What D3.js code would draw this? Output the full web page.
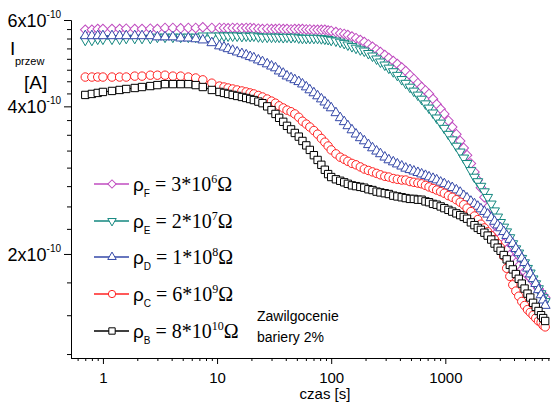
<!DOCTYPE html>
<html>
<head>
<meta charset="utf-8">
<script src="https://d3js.org/d3.v7.min.js"></script>
<style>
  body { margin: 0; background: #fff; }
  svg { display: block; }
  .axis path, .axis line { stroke: #000; stroke-width: 1; }
  .axis text { font-family: "Liberation Sans", Arial, sans-serif; fill: #000; }
</style>
</head>
<body>
<div id="chart"></div>
<script>
// I_przew vs czas, log-log, five barrier resistances, 2% moisture

var svgWidth = 551;
var svgHeight = 404;

// time [s] shared by all series
var czas = [
  0.7, 0.8, 0.9, 1.0, 1.2, 1.4, 1.6, 1.9,
  2.2, 2.6, 3.0, 3.5, 4.1, 4.8, 5.6, 6.5,
  7.5, 9, 10.5, 11.5, 12.5, 13.7, 15, 16.5,
  18, 19.5, 21, 23, 25, 27.5, 30, 32.5,
  35, 38, 41, 44.5, 48, 52, 56, 60.5,
  65, 70.5, 76, 82, 88, 94, 100, 110,
  120, 130, 140, 152, 165, 180, 195, 212,
  230, 250, 270, 295, 320, 350, 380, 415,
  450, 490, 530, 575, 620, 670, 720, 780,
  840, 910, 980, 1065, 1150, 1250, 1350, 1450,
  1550, 1675, 1800, 1925, 2050, 2200, 2350, 2525,
  2700, 2875, 3050, 3250, 3450, 3675, 3900, 4150,
  4400, 4675, 4950, 5250, 5550, 5875, 6200, 6550,
  6900, 7200, 7500
];

// current in units of 1e-10 A
var rhoF = [
  5.73, 5.73, 5.75, 5.75, 5.75, 5.75, 5.76, 5.75,
  5.75, 5.76, 5.75, 5.78, 5.78, 5.77, 5.78, 5.78,
  5.80, 5.78, 5.78, 5.78, 5.77, 5.78, 5.78, 5.77,
  5.78, 5.78, 5.77, 5.76, 5.75, 5.76, 5.75, 5.75,
  5.76, 5.75, 5.75, 5.74, 5.75, 5.75, 5.75, 5.74,
  5.74, 5.73, 5.73, 5.73, 5.73, 5.71, 5.70, 5.67,
  5.64, 5.62, 5.59, 5.55, 5.51, 5.46, 5.41, 5.35,
  5.29, 5.22, 5.16, 5.09, 5.02, 4.95, 4.88, 4.80,
  4.72, 4.63, 4.55, 4.46, 4.38, 4.31, 4.24, 4.14,
  4.04, 3.95, 3.86, 3.74, 3.63, 3.51, 3.40, 3.29,
  3.18, 3.06, 2.94, 2.83, 2.73, 2.61, 2.49, 2.39,
  2.29, 2.22, 2.16, 2.10, 2.04, 1.99, 1.95, 1.92,
  1.89, 1.86, 1.84, 1.81, 1.79, 1.76, 1.73, 1.70,
  1.67, 1.65, 1.63
];
var rhoE = [
  5.46, 5.46, 5.49, 5.49, 5.49, 5.49, 5.51, 5.51,
  5.51, 5.51, 5.54, 5.54, 5.54, 5.54, 5.54, 5.54,
  5.57, 5.57, 5.57, 5.57, 5.57, 5.57, 5.57, 5.56,
  5.57, 5.56, 5.57, 5.55, 5.54, 5.54, 5.54, 5.54,
  5.54, 5.53, 5.54, 5.53, 5.54, 5.52, 5.51, 5.51,
  5.51, 5.51, 5.51, 5.50, 5.49, 5.48, 5.46, 5.44,
  5.41, 5.38, 5.34, 5.30, 5.26, 5.22, 5.19, 5.13,
  5.07, 5.00, 4.93, 4.86, 4.79, 4.71, 4.63, 4.54,
  4.46, 4.38, 4.30, 4.22, 4.14, 4.05, 3.97, 3.88,
  3.79, 3.70, 3.61, 3.51, 3.42, 3.32, 3.23, 3.14,
  3.06, 2.96, 2.87, 2.81, 2.75, 2.68, 2.61, 2.53,
  2.45, 2.38, 2.32, 2.27, 2.22, 2.16, 2.10, 2.05,
  2.01, 1.96, 1.92, 1.87, 1.83, 1.78, 1.74, 1.70,
  1.66, 1.63, 1.60
];
var rhoD = [
  5.57, 5.57, 5.57, 5.57, 5.57, 5.57, 5.57, 5.57,
  5.57, 5.57, 5.54, 5.54, 5.54, 5.51, 5.51, 5.49,
  5.46, 5.39, 5.31, 5.28, 5.24, 5.20, 5.16, 5.12,
  5.09, 5.05, 5.02, 4.97, 4.93, 4.88, 4.83, 4.79,
  4.72, 4.67, 4.61, 4.57, 4.53, 4.49, 4.44, 4.38,
  4.32, 4.26, 4.20, 4.14, 4.08, 4.02, 3.97, 3.88,
  3.79, 3.72, 3.65, 3.58, 3.51, 3.45, 3.40, 3.34,
  3.29, 3.24, 3.20, 3.15, 3.11, 3.08, 3.05, 3.02,
  2.99, 2.97, 2.95, 2.93, 2.91, 2.89, 2.87, 2.85,
  2.83, 2.80, 2.78, 2.75, 2.73, 2.70, 2.67, 2.63,
  2.60, 2.56, 2.53, 2.50, 2.47, 2.44, 2.41, 2.37,
  2.33, 2.29, 2.26, 2.22, 2.18, 2.14, 2.10, 2.05,
  2.01, 1.96, 1.92, 1.87, 1.82, 1.78, 1.74, 1.69,
  1.65, 1.61, 1.57
];
var rhoC = [
  4.59, 4.59, 4.59, 4.59, 4.59, 4.59, 4.59, 4.61,
  4.61, 4.63, 4.63, 4.63, 4.61, 4.61, 4.59, 4.57,
  4.53, 4.46, 4.40, 4.38, 4.36, 4.34, 4.32, 4.30,
  4.28, 4.26, 4.24, 4.21, 4.18, 4.14, 4.10, 4.06,
  4.01, 3.97, 3.93, 3.90, 3.86, 3.80, 3.73, 3.68,
  3.63, 3.57, 3.51, 3.44, 3.38, 3.32, 3.26, 3.20,
  3.15, 3.12, 3.09, 3.06, 3.04, 3.01, 2.98, 2.96,
  2.94, 2.92, 2.90, 2.88, 2.87, 2.85, 2.84, 2.83,
  2.83, 2.81, 2.80, 2.79, 2.78, 2.76, 2.74, 2.72,
  2.70, 2.68, 2.66, 2.63, 2.61, 2.58, 2.55, 2.52,
  2.48, 2.44, 2.39, 2.35, 2.30, 2.26, 2.22, 2.18,
  2.14, 2.10, 2.06, 1.98, 1.87, 1.80, 1.73, 1.68,
  1.64, 1.60, 1.57, 1.54, 1.52, 1.50, 1.48, 1.46,
  1.45, 1.43, 1.42
];
var rhoB = [
  4.22, 4.24, 4.26, 4.28, 4.30, 4.32, 4.34, 4.36,
  4.38, 4.40, 4.42, 4.44, 4.44, 4.44, 4.44, 4.42,
  4.38, 4.32, 4.28, 4.26, 4.24, 4.22, 4.20, 4.18,
  4.16, 4.14, 4.12, 4.09, 4.06, 4.00, 3.93, 3.86,
  3.79, 3.72, 3.65, 3.59, 3.53, 3.47, 3.40, 3.33,
  3.26, 3.18, 3.11, 3.04, 2.97, 2.91, 2.87, 2.84,
  2.82, 2.80, 2.78, 2.76, 2.75, 2.74, 2.73, 2.71,
  2.70, 2.68, 2.67, 2.66, 2.65, 2.63, 2.62, 2.61,
  2.60, 2.59, 2.59, 2.58, 2.58, 2.56, 2.55, 2.53,
  2.52, 2.50, 2.48, 2.46, 2.44, 2.42, 2.40, 2.38,
  2.36, 2.32, 2.29, 2.26, 2.24, 2.21, 2.18, 2.14,
  2.10, 2.06, 2.03, 1.99, 1.95, 1.90, 1.86, 1.82,
  1.78, 1.74, 1.70, 1.66, 1.63, 1.59, 1.56, 1.53,
  1.50, 1.48, 1.46
];

// legend parts
var seriesLetters = ['F', 'E', 'D', 'C', 'B'];
var seriesMantissa = ['3', '2', '1', '6', '8'];
var seriesExponent = ['6', '7', '8', '9', '10'];
var seriesColors = ['#c04cc0', '#13877f', '#3448a8', '#ff2222', '#000000'];

// ticks
var xMajorTicks = [1, 10, 100, 1000];
var xMinorSteps = [2, 3, 4, 5, 6, 7, 8, 9];
var yMajorTicks = [2, 4, 6];
var yMinorTicks = [1.25, 1.5, 1.75, 2.25, 2.5, 2.75, 3, 3.25, 3.5, 3.75,
                   4.25, 4.5, 4.75, 5, 5.25, 5.5, 5.75];

var allSeries = [rhoF, rhoE, rhoD, rhoC, rhoB];

var svg = d3.select('#chart')
  .append('svg')
  .attr('width', svgWidth)
  .attr('height', svgHeight);

// scales
var xScale = d3.scaleLog()
  .domain([0.525, 8100])
  .range([71, 549]);

var yScale = d3.scaleLog()
  .domain([1.227, 6])
  .range([358, 20]);

// x minor ticks
var xMinorTicks = [];
[0.1, 1, 10, 100, 1000].forEach(function(dec) {
  xMinorSteps.forEach(function(s) {
    var v = dec * s;
    if (v >= 0.525 && v <= 8100) xMinorTicks.push(v);
  });
});

// bottom axis
svg.append('g')
  .attr('class', 'axis')
  .attr('transform', 'translate(0,358)')
  .call(d3.axisBottom(xScale).tickValues(xMinorTicks).tickSize(3).tickSizeOuter(0).tickFormat(''));

var xAxis = svg.append('g')
  .attr('class', 'axis')
  .attr('transform', 'translate(0,358)')
  .call(d3.axisBottom(xScale).tickValues(xMajorTicks).tickSize(6).tickSizeOuter(0)
    .tickFormat(d3.format('d')));
xAxis.selectAll('text')
  .attr('font-size', 15)
  .attr('y', 14);

// left axis
svg.append('g')
  .attr('class', 'axis')
  .attr('transform', 'translate(71,0)')
  .call(d3.axisLeft(yScale).tickValues(yMinorTicks).tickSize(4).tickSizeOuter(0).tickFormat(''));

var yAxis = svg.append('g')
  .attr('class', 'axis')
  .attr('transform', 'translate(71,0)')
  .call(d3.axisLeft(yScale).tickValues(yMajorTicks).tickSize(7).tickSizeOuter(0).tickFormat(''));

yAxis.selectAll('.tick text')
  .attr('x', -10)
  .attr('dy', '0.36em')
  .attr('font-size', 18)
  .attr('text-anchor', 'end')
  .each(function(d) {
    var t = d3.select(this);
    t.append('tspan').text(d + 'x10');
    t.append('tspan').attr('font-size', 10).attr('dy', -9).text('-10');
  });

// axis titles
var yTitle = svg.append('g')
  .attr('font-family', '"Liberation Sans", Arial, sans-serif')
  .attr('fill', '#000');
yTitle.append('text')
  .attr('x', 10)
  .attr('y', 55)
  .attr('font-size', 19)
  .text('I');
yTitle.append('text')
  .attr('x', 15)
  .attr('y', 65)
  .attr('font-size', 11)
  .text('przew');
yTitle.append('text')
  .attr('x', 24)
  .attr('y', 89)
  .attr('font-size', 19)
  .text('[A]');

svg.append('text')
  .attr('x', 325)
  .attr('y', 399)
  .attr('text-anchor', 'middle')
  .attr('font-family', '"Liberation Sans", Arial, sans-serif')
  .attr('font-size', 15)
  .text('czas [s]');

// marker shapes
var symbolTypes = [d3.symbolSquare, d3.symbolTriangle, d3.symbolTriangle, d3.symbolCircle, d3.symbolSquare];
var symbolSizes = [46, 42, 42, 56, 54];
var symbolRotate = [45, 180, 0, 0, 0];

var line = d3.line()
  .x(function(d) { return xScale(d[0]); })
  .y(function(d) { return yScale(d[1]); });

// series, F first so B ends up on top
allSeries.forEach(function(vals, i) {
  var pts = czas.map(function(t, j) { return [t, vals[j]]; });
  var g = svg.append('g');
  g.append('path')
    .datum(pts)
    .attr('fill', 'none')
    .attr('stroke', seriesColors[i])
    .attr('stroke-width', 1)
    .attr('d', line);
  g.selectAll('path.mark')
    .data(pts)
    .enter()
    .append('path')
    .attr('class', 'mark')
    .attr('d', d3.symbol().type(symbolTypes[i]).size(symbolSizes[i]))
    .attr('transform', function(d) {
      return 'translate(' + xScale(d[0]) + ',' + yScale(d[1]) + ') rotate(' + symbolRotate[i] + ')';
    })
    .attr('fill', '#fff')
    .attr('stroke', seriesColors[i])
    .attr('stroke-width', 1);
});

// legend
var legendY = [184, 221, 257, 294, 331];
var legend = svg.append('g');
seriesLetters.forEach(function(letter, i) {
  var ly = legendY[i];
  legend.append('line')
    .attr('x1', 94).attr('x2', 129)
    .attr('y1', ly).attr('y2', ly)
    .attr('stroke', seriesColors[i])
    .attr('stroke-width', 1.5);
  legend.append('path')
    .attr('d', d3.symbol().type(symbolTypes[i]).size(symbolSizes[i] * 0.75))
    .attr('transform', 'translate(112,' + ly + ') rotate(' + symbolRotate[i] + ')')
    .attr('fill', '#fff')
    .attr('stroke', seriesColors[i])
    .attr('stroke-width', 1);

  var txt = legend.append('text')
    .attr('x', 133)
    .attr('y', ly + 7)
    .attr('fill', '#000');
  txt.append('tspan')
    .attr('font-family', '"Liberation Sans", Arial, sans-serif')
    .attr('font-size', 19)
    .text('\u03C1');
  txt.append('tspan')
    .attr('font-family', '"Liberation Sans", Arial, sans-serif')
    .attr('font-size', 10)
    .attr('dy', 6)
    .text(letter);
  txt.append('tspan')
    .attr('font-family', '"Liberation Serif", "Times New Roman", serif')
    .attr('font-size', 20)
    .attr('dy', -6)
    .text(' = ' + seriesMantissa[i] + '*10');
  txt.append('tspan')
    .attr('font-family', '"Liberation Serif", "Times New Roman", serif')
    .attr('font-size', 12)
    .attr('dy', -8)
    .text(seriesExponent[i]);
  txt.append('tspan')
    .attr('font-family', '"Liberation Serif", "Times New Roman", serif')
    .attr('font-size', 20)
    .attr('dy', 8)
    .text('\u03A9');
});

// annotation
var note = svg.append('g')
  .attr('font-family', '"Liberation Sans", Arial, sans-serif')
  .attr('font-size', 14)
  .attr('fill', '#000');
note.append('text').attr('x', 257).attr('y', 321).text('Zawilgocenie');
note.append('text').attr('x', 257).attr('y', 342).text('bariery 2%');
</script>
</body>
</html>
